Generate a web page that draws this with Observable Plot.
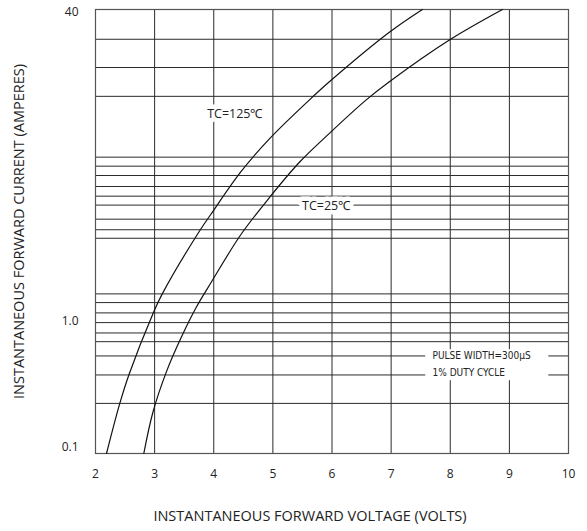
<!DOCTYPE html>
<html><head><meta charset="utf-8">
<script src="https://cdn.jsdelivr.net/npm/d3@7"></script>
<script src="https://cdn.jsdelivr.net/npm/@observablehq/plot@0.6"></script>
<style>body{margin:0;background:#fff;}</style>
</head><body><div id="chart"></div>
<script>
// ---- data ----
const xTicks = [2, 3, 4, 5, 6, 7, 8, 9, 10];
const xGrid = [3, 4, 5, 6, 7, 8, 9];
const yTickValues = [0.1, 1, 40];
const yTickLabels = ["0.1", "1.0", "40"];
const gridCurrents = [0.258, 0.422, 0.577, 0.724, 0.829, 0.971, 1.123, 1.307, 1.482,
  3.17, 3.54, 4.05, 4.83, 5.39, 6.06, 6.91, 7.71, 8.56, 16.75, 22.6, 30.0];

const tc125Voltage = [2.186, 2.411, 2.564, 2.970, 3.129, 3.765, 3.958, 4.457, 4.957, 5.610, 5.965, 6.964, 7.529];
const tc125Current = [0.1, 0.258, 0.422, 1.106, 1.482, 3.505, 4.335, 7.206, 10.65, 16.05, 19.61, 32.04, 40];

const tc25Voltage = [2.817, 2.970, 3.202, 3.455, 3.709, 3.958, 4.454, 4.957, 5.461, 5.965, 6.569, 6.964, 7.979, 8.883];
const tc25Current = [0.1, 0.219, 0.448, 0.781, 1.229, 1.748, 3.307, 5.372, 8.138, 11.27, 16.05, 19.47, 29.71, 40];

const curveLabels = ["TC=125℃", "TC=25℃"];
const curveLabelVoltage = [4.356, 5.90];
const curveLabelCurrent = [13.9, 4.75];

const noteLines = ["PULSE WIDTH=300μS", "1% DUTY CYCLE"];
const noteVoltage = [7.70, 7.70];
const noteCurrent = [0.5795, 0.4405];
const noteBoxVoltage = [7.585, 9.667];
const noteBoxCurrent = [0.383, 0.638];

const xTitle = "INSTANTANEOUS FORWARD VOLTAGE (VOLTS)";
const yTitle = "INSTANTANEOUS FORWARD CURRENT (AMPERES)";

// ---- tables built from arrays ----
const tc125 = tc125Voltage.map((v, i) => ({v, a: tc125Current[i]}));
const tc25 = tc25Voltage.map((v, i) => ({v, a: tc25Current[i]}));
const labels = curveLabels.map((t, i) => ({t, v: curveLabelVoltage[i], a: curveLabelCurrent[i]}));
const notes = noteLines.map((t, i) => ({t, v: noteVoltage[i], a: noteCurrent[i]}));
const box = [{x1: noteBoxVoltage[0], x2: noteBoxVoltage[1], y1: noteBoxCurrent[0], y2: noteBoxCurrent[1]}];
const fmtY = d => yTickLabels[yTickValues.indexOf(d)];

const chart = Plot.plot({
  width: 587,
  height: 531,
  marginTop: 9,
  marginBottom: 78,
  marginLeft: 95,
  marginRight: 19,
  style: {fontFamily: "'Open Sans', sans-serif", fontSize: "12px", background: "#fff", color: "#222"},
  x: {domain: [2, 10]},
  y: {type: "pow", exponent: 0.125, domain: [0.1, 40]},
  marks: [
    Plot.ruleY(gridCurrents, {stroke: "#2a2a2a", strokeWidth: 1}),
    Plot.ruleX(xGrid, {stroke: "#2a2a2a", strokeWidth: 1}),
    Plot.frame({stroke: "#555", strokeWidth: 1.2}),
    Plot.rect(box, {x1: "x1", x2: "x2", y1: "y1", y2: "y2", fill: "#fff"}),
    Plot.line(tc125, {x: "v", y: "a", curve: "catmull-rom", stroke: "#111", strokeWidth: 1.2}),
    Plot.line(tc25, {x: "v", y: "a", curve: "catmull-rom", stroke: "#111", strokeWidth: 1.2}),
    Plot.text(labels, {x: "v", y: "a", text: "t", fontSize: 12.5, fill: "#222", stroke: "#fff", strokeWidth: 9}),
    Plot.text(notes, {x: "v", y: "a", text: "t", textAnchor: "start", fontSize: 10,
      fontFamily: "'Liberation Sans Narrow', 'DejaVu Sans Condensed', sans-serif", fill: "#222"}),
    Plot.axisX(xTicks, {tickSize: 0, tickPadding: 16, label: null, fontSize: 12}),
    Plot.axisY([1], {tickSize: 0, tickPadding: 17, tickFormat: fmtY, label: null, fontSize: 12}),
    Plot.axisY([40], {tickSize: 0, tickPadding: 17, tickFormat: fmtY, label: null, fontSize: 12, dy: 3}),
    Plot.axisY([0.1], {tickSize: 0, tickPadding: 17, tickFormat: fmtY, label: null, fontSize: 12, dy: -6}),
    Plot.text([xTitle], {text: d => d, frameAnchor: "bottom", textAnchor: "middle", dy: 67, dx: -22, fontSize: 14.5, fill: "#222"}),
    Plot.text([yTitle], {text: d => d, frameAnchor: "left", textAnchor: "middle", rotate: -90, dx: -76, fontSize: 14.5, fill: "#222"})
  ]
});
document.getElementById("chart").appendChild(chart);
</script>
</body></html>
